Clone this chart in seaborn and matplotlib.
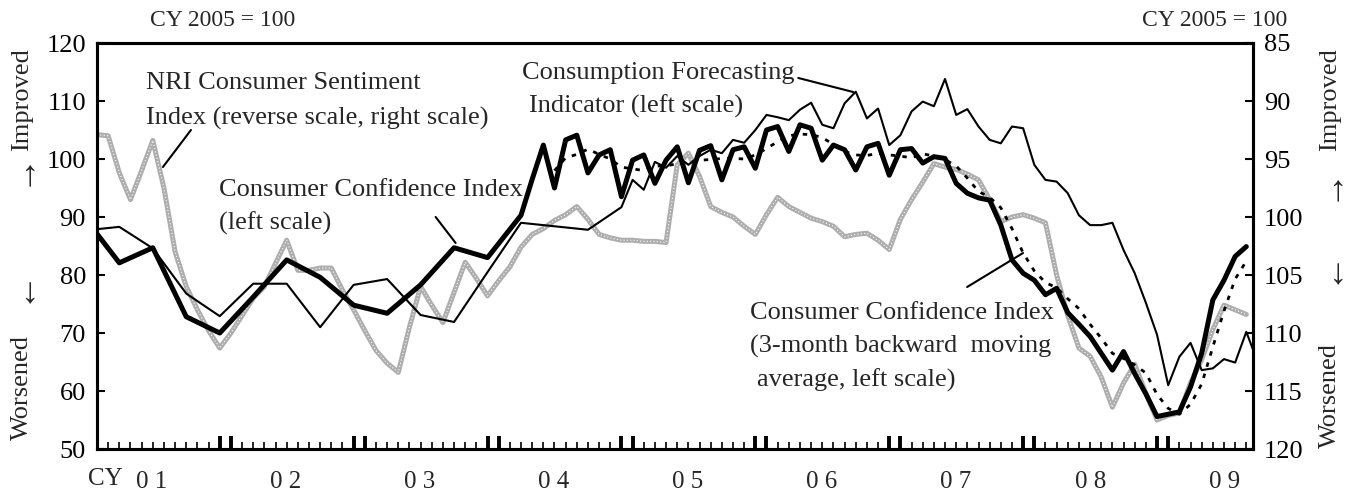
import numpy as np
import pandas as pd
import seaborn as sns
import matplotlib.pyplot as plt

sns.set_theme(style='ticks')
plt.rcParams['font.family'] = ['Liberation Serif', 'DejaVu Serif']

# month index: 0 = Jan 2001
cci_month = [0, 2, 5, 8, 11, 14, 17, 20, 23, 26, 29, 32, 35, 38] + list(range(39, 104))
cci_value = [87.1, 82.1, 84.7, 72.8, 70.0, 76.2, 82.6, 79.6, 74.8, 73.4, 78.3, 84.7, 83.0, 90.3,
             96.5, 102.4, 95.0, 103.3, 104.1, 97.6, 100.7, 101.6, 93.5, 99.8, 100.7, 95.8, 99.8,
             102.1, 95.9, 101.5, 102.3, 96.4, 101.6, 102.1, 98.4, 105.0, 105.6, 101.3, 105.9,
             105.3, 99.8, 102.4, 101.6, 98.1, 102.1, 102.7, 97.2, 101.6, 101.8, 99.3, 100.4,
             100.1, 95.8, 94.1, 93.3, 92.9, 88.6, 82.6, 80.3, 79.1, 76.6, 77.7, 73.5, 71.5,
             69.4, 66.5, 63.6, 66.8, 63.0, 59.5, 55.6, 56.0, 56.4, 60.7, 66.5, 75.7, 79.1,
             83.2, 84.9]

ma_month = list(range(41, 104))
ma_value = [98.0, 100.2, 100.8, 101.7, 100.8, 100.0, 98.6, 98.3, 98.0, 98.8, 98.8, 99.2,
            99.3, 99.8, 99.9, 100.1, 100.1, 100.0, 100.7, 101.8, 103.0, 104.0, 104.3, 104.2,
            103.7, 102.5, 101.3, 100.7, 100.6, 101.0, 100.7, 100.5, 100.2, 100.9, 100.5,
            99.9, 98.8, 96.7, 94.4, 93.4, 91.6, 88.0, 83.8, 80.7, 78.7, 77.8, 75.9, 74.2,
            71.5, 69.1, 66.5, 65.6, 64.5, 63.1, 59.4, 57.0, 56.0, 57.7, 61.2, 67.6, 73.8,
            79.3, 82.4]

cfi_month = [0, 2, 5, 8, 11, 14, 17, 20, 23, 26, 29, 32, 35, 38, 41, 44, 47] + list(range(48, 105))
cfi_value = [87.9, 88.3, 84.6, 76.8, 72.9, 78.5, 78.5, 71.0, 78.3, 79.3, 73.1, 71.9, 80.5,
             89.0, 88.4, 87.8, 91.7,
             96.4, 94.7, 99.5, 98.5, 100.5, 99.0, 100.5, 101.6, 101.0, 103.3, 102.8, 105.0,
             107.6, 107.2, 106.7, 108.5, 109.7, 105.9, 105.3, 109.6, 111.6, 107.0, 108.7,
             102.4, 104.1, 108.2, 109.9, 109.1, 113.8, 107.6, 108.6, 105.6, 103.3, 102.7,
             105.6, 105.3, 99.0, 96.4, 96.1, 94.1, 90.3, 88.6, 88.6, 89.0, 84.3, 80.3, 75.2,
             69.7, 61.0, 65.9, 68.3, 63.6, 63.9, 65.5, 64.9, 70.2, 65.1]

nri_month = list(range(0, 104))
nri_value = [92.9, 93.0, 96.2, 98.5, 96.0, 93.4, 97.5, 103.0, 106.0, 108.0, 109.8, 111.3,
             110.0, 108.5, 107.0, 106.0, 104.0, 102.0, 104.6, 104.6, 104.4, 104.4, 106.3, 108.0,
             109.8, 111.5, 112.6, 113.4, 109.5, 106.0, 107.6, 109.1, 106.5, 103.9, 105.3, 106.8,
             105.5, 104.3, 102.6, 101.5, 101.0, 100.3, 99.8, 99.1, 100.2, 101.5, 101.8, 102.0,
             102.0, 102.1, 102.1, 102.2, 95.5, 94.5, 96.5, 99.1, 99.6, 100.0, 100.8, 101.5,
             99.8, 98.3, 99.1, 99.6, 100.1, 100.4, 100.8, 101.7, 101.5, 101.4, 102.0, 102.8,
             100.2, 98.5, 97.0, 95.4, 95.7, 95.9, 96.3, 96.8, 98.5, 100.4, 100.0, 99.8,
             100.1, 100.5, 105.0, 108.5, 111.3, 112.0, 113.8, 116.4, 114.3, 112.7, 115.2, 117.5,
             117.1, 116.9, 114.3, 112.3, 109.7, 107.6, 108.0, 108.4]

year_labels = ['0 1', '0 2', '0 3', '0 4', '0 5', '0 6', '0 7', '0 8', '0 9']

cci = pd.DataFrame({'month': cci_month, 'value': cci_value})
ma = pd.DataFrame({'month': ma_month, 'value': ma_value})
cfi = pd.DataFrame({'month': cfi_month, 'value': cfi_value})
nri = pd.DataFrame({'month': nri_month, 'value': nri_value})

W, H = 1351, 494
fig = plt.figure(figsize=(W / 100, H / 100), dpi=100)
ax = fig.add_axes([97 / W, 45 / H, (1253 - 97) / W, (449 - 43) / H])
ax2 = ax.twinx()

# NRI on reverse right scale, drawn underneath
sns.lineplot(data=nri, x='month', y='value', ax=ax2, color='#adadad', linewidth=3.6,
             errorbar=None)
sns.lineplot(data=nri, x='month', y='value', ax=ax2, color='white', linewidth=0.8,
             errorbar=None, linestyle=(0, (1, 2)))

sns.lineplot(data=cfi, x='month', y='value', ax=ax, color='black', linewidth=1.5,
             errorbar=None)
sns.lineplot(data=ma, x='month', y='value', ax=ax, color='black', linewidth=2.0,
             errorbar=None, linestyle=(0, (1.6, 2.6)))
sns.lineplot(data=cci, x='month', y='value', ax=ax, color='black', linewidth=3.6,
             errorbar=None)

ax.set_zorder(ax2.get_zorder() + 1)
ax.patch.set_visible(False)

ax.set_xlim(0.05, 103.6)
ax.set_ylim(50, 120)
ax2.set_ylim(120, 85)
ax.set_xlabel('')
ax.set_ylabel('')
ax2.set_ylabel('')

ax.set_yticks(range(50, 121, 10))
ax2.set_yticks(range(85, 121, 5))
ax.tick_params(axis='y', which='major', direction='in', left=True, length=6, width=1.5,
               labelsize=19, pad=8, colors='black')
ax2.tick_params(axis='y', which='major', direction='in', right=True, length=6, width=1.5,
                labelsize=19, pad=8, colors='black')

# monthly ticks, heavy double ticks at each Dec/Jan
ax.set_xticks(range(0, 104), minor=True)
ax.set_xticks([m for y in range(8) for m in (11 + 12 * y, 12 + 12 * y)])
ax.tick_params(axis='x', which='minor', direction='in', bottom=True, length=5, width=1.2,
               colors='black')
ax.tick_params(axis='x', which='major', direction='in', bottom=True, length=9.5, width=2.8,
               labelbottom=False, colors='black')
ax2.tick_params(axis='x', which='both', bottom=False, top=False, labelbottom=False)

for a in (ax, ax2):
    for s in a.spines.values():
        s.set_visible(True)
        s.set_linewidth(2.2)
        s.set_color('black')

# year labels below the axis (pixel rows of the reference)
for i, lab in enumerate(year_labels):
    fig.text((96 + 11.17 * (5 + 12 * i)) / W, 1 - 488 / H, lab, ha='center',
             va='baseline', fontsize=18)
fig.text(105 / W, 1 - 485 / H, 'CY', ha='center', va='baseline', fontsize=18)

fs = 19
ax.text(4.39, 113.1, 'NRI Consumer Sentiment', fontsize=fs, va='center')
ax.text(4.39, 107.07, 'Index (reverse scale, right scale)', fontsize=fs, va='center')
ax.text(10.92, 94.66, 'Consumer Confidence Index', fontsize=fs, va='center')
ax.text(10.92, 88.97, '(left scale)', fontsize=fs, va='center')
ax.text(38.05, 114.83, 'Consumption Forecasting', fontsize=fs, va='center')
ax.text(38.68, 109.14, 'Indicator (left scale)', fontsize=fs, va='center')
ax.text(58.55, 73.45, 'Consumer Confidence Index', fontsize=fs, va='center')
ax.text(58.55, 67.76, '(3-month backward  moving', fontsize=fs, va='center')
ax.text(59.18, 61.9, 'average, left scale)', fontsize=fs, va='center')

lk = dict(arrowstyle='-', lw=1.5, color='black', shrinkA=0, shrinkB=0)
ax.annotate('', xy=(5.91, 98.62), xytext=(8.42, 105.0), arrowprops=lk)
ax.annotate('', xy=(32.14, 85.52), xytext=(30.35, 90.0), arrowprops=lk)
ax.annotate('', xy=(67.77, 111.55), xytext=(62.85, 113.97), arrowprops=lk)
ax.annotate('', xy=(82.99, 83.79), xytext=(77.98, 77.93), arrowprops=lk)

fig.text(150 / W, 1 - 20 / H, 'CY 2005 = 100', ha='left', va='center', fontsize=17)
fig.text(1287 / W, 1 - 20 / H, 'CY 2005 = 100', ha='right', va='center', fontsize=17)

for xp, ys in ((22, (100, 168, 285, 388)), (1330, (100, 183, 266, 395))):
    fig.text(xp / W, 1 - ys[0] / H, 'Improved', rotation=90, ha='center', va='center', fontsize=fs)
    fig.text(xp / W, 1 - ys[1] / H, '\u2192', rotation=90, ha='center', va='center', fontsize=26)
    fig.text(xp / W, 1 - ys[2] / H, '\u2190', rotation=90, ha='center', va='center', fontsize=26)
    fig.text(xp / W, 1 - ys[3] / H, 'Worsened', rotation=90, ha='center', va='center', fontsize=fs)

fig.savefig('out.png', dpi=100)
